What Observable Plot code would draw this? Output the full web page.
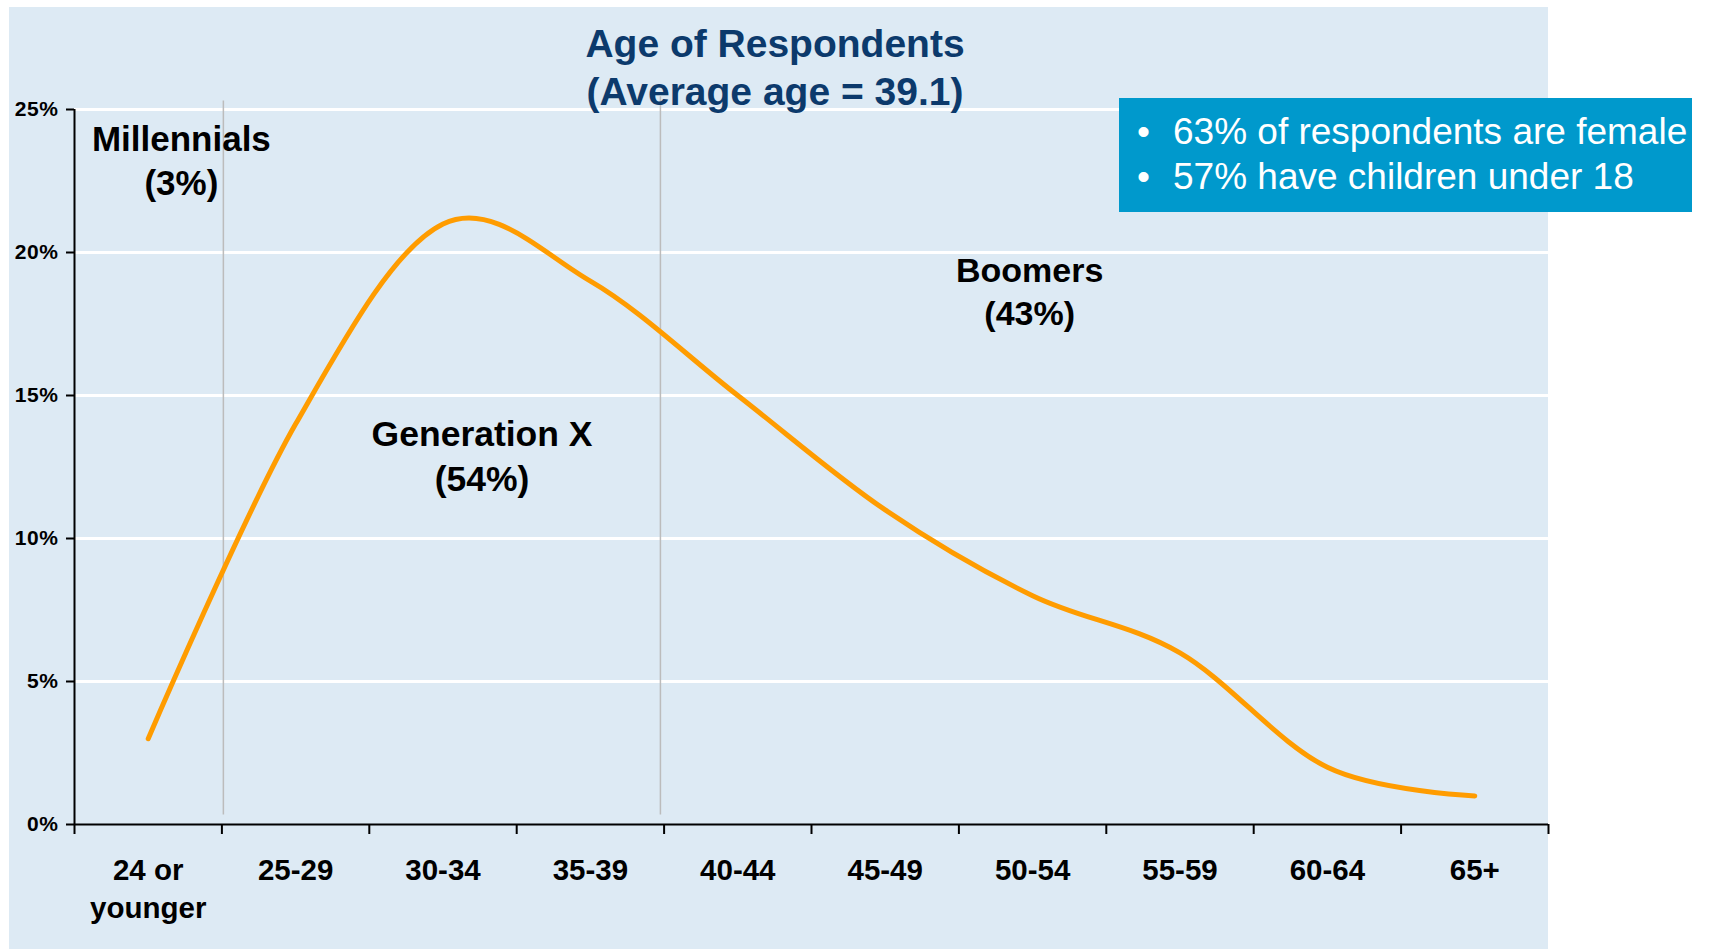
<!DOCTYPE html>
<html>
<head>
<meta charset="utf-8">
<script src="https://cdn.jsdelivr.net/npm/d3@7"></script>
<script src="https://cdn.jsdelivr.net/npm/@observablehq/plot@0.6"></script>
<style>
  html, body { margin: 0; padding: 0; background: #ffffff; }
  #page { position: relative; width: 1712px; height: 950px; overflow: hidden; font-family: "Liberation Sans", Arial, sans-serif; }
  #panel { position: absolute; left: 9px; top: 7px; width: 1539px; height: 942px; background: #ddeaf4; }
  #chart { position: absolute; left: 0; top: 0; }
  #chart svg g[aria-label="y-axis tick label"] text { letter-spacing: 0.6px; }
  #title { position: absolute; left: 375px; top: 20px; width: 800px; text-align: center; font-weight: bold; font-size: 39px; line-height: 48px; color: #0c3a6c; }
  #callout { position: absolute; left: 1119px; top: 98px; width: 573px; height: 114px; background: #0099cc; color: #ffffff; font-size: 37px; }
  #callout .row { position: absolute; left: 0; height: 45px; line-height: 45px; white-space: nowrap; }
  #callout .bul { position: absolute; left: 18px; }
  #callout .txt { position: absolute; left: 54px; }
</style>
</head>
<body>
<div id="page">
  <div id="panel"></div>
  <div id="chart"></div>
  <div id="title"></div>
  <div id="callout"></div>
</div>
<script>
// ---- data ----
const categories = ["24 or\nyounger", "25-29", "30-34", "35-39", "40-44", "45-49", "50-54", "55-59", "60-64", "65+"];
const shares = [3, 14, 21, 19, 15, 11, 8, 6, 2, 1];            // % of respondents per age group
const yTicks = [0, 5, 10, 15, 20, 25];
const titleLines = ["Age of Respondents", "(Average age = 39.1)"];
const calloutLines = ["63% of respondents are female", "57% have children under 18"];
const generations = ["Millennials\n(3%)", "Generation X\n(54%)", "Boomers\n(43%)"];
const generationBoundaries = [1.01, 3.975];                      // in age-group units

// ---- HTML texts ----
document.getElementById("title").innerHTML = titleLines.join("<br>");
const callout = document.getElementById("callout");
calloutLines.forEach((t, i) => {
  const row = document.createElement("div");
  row.className = "row";
  row.style.top = (11 + i * 45) + "px";
  row.innerHTML = `<span class="bul">•</span><span class="txt"></span>`;
  row.querySelector(".txt").textContent = t;
  callout.appendChild(row);
});

// ---- chart ----
const idx = categories.map((_, i) => i);
const genPos = [[0.725, 23.28], [2.765, 12.96], [6.48, 18.7]];
const genSize = [35, 35.5, 34];
const boundaryTop = [25.3, 25.45];

const chart = Plot.plot({
  width: 1712,
  height: 950,
  marginLeft: 74,
  marginRight: 164,
  marginTop: 109,
  marginBottom: 126,
  x: { domain: [0, categories.length], label: null },
  y: { domain: [0, 25], label: null },
  style: { background: "transparent", fontFamily: "'Liberation Sans', Arial, sans-serif", overflow: "visible", color: "black" },
  marks: [
    Plot.ruleY(yTicks.filter(d => d > 0), { stroke: "white", strokeWidth: 3 }),
    Plot.ruleX(generationBoundaries, { x: d => d, y1: 0.33, y2: (d, i) => boundaryTop[i], stroke: "#bcbcbc", strokeWidth: 1.5 }),
    Plot.line(idx, { x: i => i + 0.5, y: i => shares[i], curve: "cardinal", stroke: "#ff9c00", strokeWidth: 5, strokeLinecap: "round", strokeLinejoin: "round" }),
    Plot.ruleX([0], { stroke: "black", strokeWidth: 2 }),
    Plot.ruleY([0], { stroke: "black", strokeWidth: 2 }),
    Plot.axisY(yTicks, { tickSize: 8, tickPadding: 8, tickFormat: d => d + "%", fontSize: 21, fontWeight: "bold", strokeWidth: 2 }),
    Plot.axisX(d3.range(0, categories.length + 1), { tickSize: 10, tickFormat: () => "", strokeWidth: 2 }),
    Plot.axisX(idx.map(i => i + 0.5), { tickSize: 0, tickPadding: 29.5, tickFormat: x => categories[Math.floor(x)], fontSize: 29.5, fontWeight: "bold", lineHeight: 1.26 }),
    Plot.text(generations, { x: (d, i) => genPos[i][0], y: (d, i) => genPos[i][1], text: d => d, fontSize: (d, i) => genSize[i], fontWeight: "bold", lineHeight: 1.27, fill: "black" })
  ]
});
document.getElementById("chart").appendChild(chart);
</script>
</body>
</html>
